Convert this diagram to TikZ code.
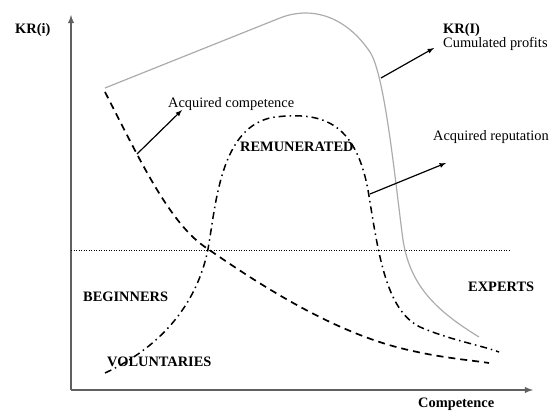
\documentclass[tikz,border=0pt]{standalone}
\usepackage{fontspec}
\setmainfont{Liberation Serif}
\usepackage{tikz}
\usetikzlibrary{arrows,positioning}

\begin{document}
\begin{tikzpicture}[x=1pt,y=-1pt,
		lbl/.style={anchor=west, inner sep=0pt, font=\fontsize{14.4}{17}\selectfont},%
		blbl/.style={lbl, font=\fontsize{14.4}{17}\selectfont\bfseries},%
		axis/.style={draw=gray!75!black, line width=1.8pt, -latex},%
		profit/.style={draw=gray!65, line width=1.2pt},%
		competence/.style={line width=1.7pt, dash pattern=on 7pt off 5pt},%
		reputation/.style={line width=1.5pt, dash pattern=on 7pt off 4pt on 1.5pt off 4pt},%
		pointer/.style={line width=1.2pt, -latex},%
		]
	\useasboundingbox (0,0) rectangle (552,411);
	% axes
	\coordinate (o) at (71,390);
	\coordinate (ytop) at (71,15);
	\coordinate (xend) at (533,390);
	\draw[axis] (o) -- (ytop);
	\draw[axis] (o) -- (xend);
	\node[blbl] (kr) at (15,30) {KR(i)};
	\node[blbl] (compaxis) at (418,404) {Competence};
	% threshold
	\coordinate (t1) at (71,250);
	\coordinate (t2) at (509,250);
	\draw[line width=0.8pt, dash pattern=on 1pt off 1.5pt] (t1) -- (t2);
	% curves
	\draw[profit] (105,88) -- (280,18) .. controls (310,6) and (345,15) .. (370,52)
		.. controls (385,75) and (395,180) .. (403,240) .. controls (410,285) and (435,310) .. (479,337);
	\draw[competence] (105,92) .. controls (140,160) and (170,225) .. (208,249)
		.. controls (260,285) and (330,330) .. (400,348) .. controls (440,358) and (470,360) .. (489,363);
	\draw[reputation] (105,373) .. controls (165,345) and (198,300) .. (208,249)
		.. controls (216,205) and (220,125) .. (275,117) .. controls (320,112) and (355,120) .. (368,190)
		.. controls (378,250) and (385,310) .. (420,327) .. controls (450,340) and (480,345) .. (499,352);
	% labels
	\node[lbl] (acqcomp) at (168,104) {Acquired competence};
	\node[blbl] (remun) at (240,147) {REMUNERATED};
	\node[blbl] (krI) at (443,30) {KR(I)};
	\node[lbl] (cumul) at (443,44) {Cumulated profits};
	\node[lbl] (acqrep) at (433,137) {Acquired reputation};
	\node[blbl] (begin) at (83,297) {BEGINNERS};
	\node[blbl] (volunt) at (107,362) {VOLUNTARIES};
	\node[blbl] (expert) at (468,287) {EXPERTS};
	% pointers
	\coordinate (c1) at (137,154);
	\coordinate (c2) at (182,110);
	\coordinate (p1) at (381,78);
	\coordinate (p2) at (434,48);
	\coordinate (r1) at (370,194);
	\coordinate (r2) at (446,163);
	\draw[pointer] (c1) -- (c2);
	\draw[pointer] (p1) -- (p2);
	\draw[pointer] (r1) -- (r2);
	\end{tikzpicture}
\end{document}
